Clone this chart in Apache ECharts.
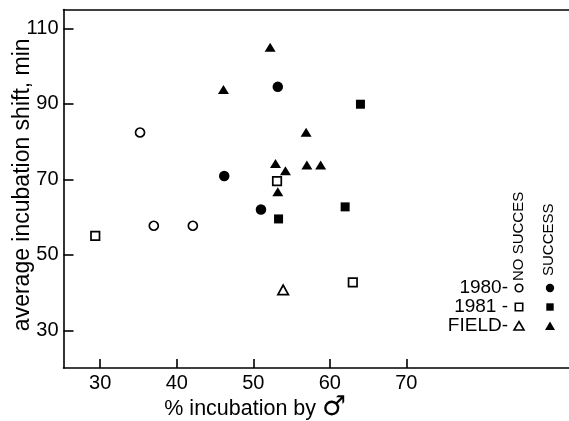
<!DOCTYPE html>
<html><head><meta charset="utf-8">
<script src="https://cdn.jsdelivr.net/npm/echarts@6/dist/echarts.min.js"></script>
<style>html,body{margin:0;padding:0;background:#fff;overflow:hidden;width:569px;height:421px}#c{width:600px;height:421px}</style>
</head><body><div id="c"></div>
<script>
// x = % incubation by male, y = average incubation shift (min)
const noSuccess1980 = [[35.2, 82.4], [37.0, 57.7], [42.1, 57.7]];
const success1980   = [[53.2, 94.5], [46.2, 70.9], [51.0, 62.0]];
const noSuccess1981 = [[29.35, 55.0], [53.1, 69.5], [63.0, 42.7]];
const success1981   = [[64.0, 89.9], [62.0, 62.7], [53.3, 59.5]];
const noSuccessField = [[53.9, 40.7]];
const successField  = [[52.2, 105.0], [46.1, 93.8], [56.9, 82.5], [52.9, 74.2], [54.2, 72.3], [57.0, 73.8], [58.8, 73.8], [53.2, 66.7]];
const xTicks = [30, 40, 50, 60, 70];
const yTicks = [30, 50, 70, 90, 110];
const rowLabels = ['1980-', '1981 -', 'FIELD-'];
const colLabels = ['NO SUCCES', 'SUCCESS'];

const FONT = 'Liberation Sans, Arial, sans-serif';
const chart = echarts.init(document.getElementById('c'), null, {renderer: 'canvas'});

function openS(name, data, symbol, size) {
  return {name, type: 'scatter', data, symbol, symbolSize: size,
    itemStyle: {color: '#fff', borderColor: '#000', borderWidth: 1.7, opacity: 1}, z: 3};
}
function fillS(name, data, symbol, size) {
  return {name, type: 'scatter', data, symbol, symbolSize: size,
    itemStyle: {color: '#000', opacity: 1}, z: 3};
}

const rowsY = [288, 307, 326];
const colX = [519, 550];
const graphics = [];
rowLabels.forEach((t, i) => graphics.push({type: 'text', x: 508, y: rowsY[i],
  style: {text: t, font: '19px ' + FONT, fill: '#000', align: 'right', verticalAlign: 'middle'}}));
graphics.push({type: 'text', x: colX[0], y: 281, rotation: Math.PI / 2,
  style: {text: colLabels[0], font: '15px ' + FONT, fill: '#000', align: 'left', verticalAlign: 'middle'}});
graphics.push({type: 'text', x: colX[1] - 1, y: 276, rotation: Math.PI / 2,
  style: {text: colLabels[1], font: '15px ' + FONT, fill: '#000', align: 'left', verticalAlign: 'middle'}});
// legend keys
const open = {fill: '#fff', stroke: '#000', lineWidth: 1.6};
const fill = {fill: '#000'};
graphics.push({type: 'circle', shape: {cx: colX[0], cy: rowsY[0], r: 3.8}, style: open});
graphics.push({type: 'circle', shape: {cx: colX[1], cy: rowsY[0], r: 4.2}, style: fill});
graphics.push({type: 'rect', shape: {x: colX[0] - 3.7, y: rowsY[1] - 3.7, width: 7.4, height: 7.4}, style: open});
graphics.push({type: 'rect', shape: {x: colX[1] - 3.7, y: rowsY[1] - 3.7, width: 7.4, height: 7.4}, style: fill});
graphics.push({type: 'polygon', shape: {points: [[colX[0], rowsY[2] - 4.5], [colX[0] + 5, rowsY[2] + 4], [colX[0] - 5, rowsY[2] + 4]]}, style: open});
graphics.push({type: 'polygon', shape: {points: [[colX[1], rowsY[2] - 4.5], [colX[1] + 5, rowsY[2] + 4], [colX[1] - 5, rowsY[2] + 4]]}, style: fill});

chart.setOption({
  animation: false,
  backgroundColor: '#fff',
  textStyle: {fontFamily: FONT},
  grid: {left: 63.5, right: 0, top: 9.5, bottom: 53, containLabel: false, outerBoundsMode: 'none'},
  xAxis: [{
    type: 'value', min: 25.2, max: 95.3, position: 'bottom',
    name: '% incubation by {m|\u2642}', nameLocation: 'middle', nameGap: 26, nameMoveOverlap: false,
    nameTextStyle: {fontSize: 21.5, color: '#000', fontFamily: FONT, padding: [0, 153, 0, 0],
      rich: {m: {fontSize: 27, fontFamily: 'DejaVu Sans', color: '#000', padding: [0, 0, 4, 0]}}},
    axisLine: {show: true, lineStyle: {color: '#000', width: 1.6}},
    axisTick: {show: true, inside: true, length: 9, lineStyle: {color: '#000', width: 1.6}, customValues: xTicks},
    axisLabel: {color: '#000', fontSize: 20, margin: 5, customValues: xTicks},
    splitLine: {show: false}
  }, {
    type: 'value', min: 25.2, max: 95.3, position: 'top',
    axisLine: {show: true, onZero: false, lineStyle: {color: '#000', width: 1.6}},
    axisTick: {show: false}, axisLabel: {show: false}, splitLine: {show: false}
  }],
  yAxis: {
    type: 'value', min: 20, max: 115,
    name: 'average incubation shift, min', nameLocation: 'middle', nameGap: 29, nameRotate: 90, nameMoveOverlap: false,
    nameTextStyle: {fontSize: 23, color: '#000', fontFamily: FONT, padding: [0, 0, 0, 8]},
    axisLine: {show: true, lineStyle: {color: '#000', width: 1.6}},
    axisTick: {show: true, inside: true, length: 10, lineStyle: {color: '#000', width: 1.6}, customValues: yTicks},
    axisLabel: {color: '#000', fontSize: 20, margin: 5, customValues: yTicks},
    splitLine: {show: false}
  },
  graphic: graphics,
  series: [
    openS('1980 no success', noSuccess1980, 'circle', 9),
    fillS('1980 success', success1980, 'circle', 10.5),
    openS('1981 no success', noSuccess1981, 'rect', 8.5),
    fillS('1981 success', success1981, 'rect', 9),
    openS('Field no success', noSuccessField, 'triangle', [10.5, 9.5]),
    fillS('Field success', successField, 'triangle', [11, 9])
  ]
});
</script></body></html>
